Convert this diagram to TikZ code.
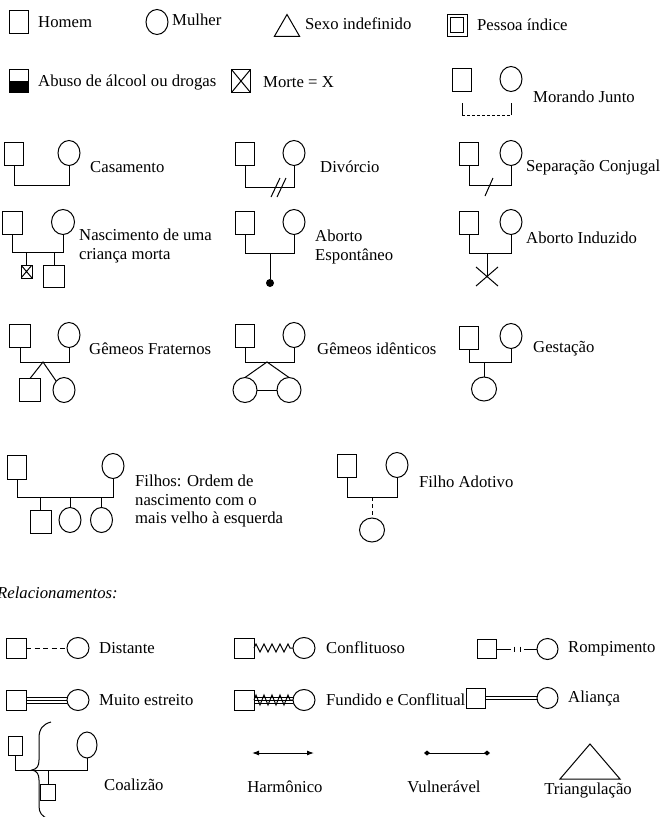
\documentclass[tikz,border=0pt]{standalone}
\usepackage{fontspec}
\setmainfont{Liberation Serif}
\usetikzlibrary{shapes.geometric,arrows.meta,decorations.pathmorphing}
\newcommand\lblfont{\fontsize{16.7}{18.5}\selectfont}
\begin{document}
\begin{tikzpicture}[x=1pt,y=-1pt,
  ln/.style={line width=1pt},
  male/.style={draw, ln, rectangle, minimum width=19pt, minimum height=23pt, inner sep=0pt, outer sep=0pt},
  female/.style={draw, ln, ellipse, minimum width=22pt, minimum height=25pt, inner sep=0pt, outer sep=0pt},
  smallsq/.style={male, minimum width=11pt, minimum height=13pt},
  lab/.style={anchor=west, inner sep=0pt, font=\lblfont, align=left},
  ctr/.style={inner sep=0pt, font=\lblfont},
  cross/.style={path picture={\draw[ln] (path picture bounding box.north west) -- (path picture bounding box.south east) (path picture bounding box.north east) -- (path picture bounding box.south west);}},
  halffill/.style={path picture={\fill (path picture bounding box.west) rectangle (path picture bounding box.south east);}},
  zz/.style={decorate, decoration={zigzag, segment length=8pt, amplitude=4pt}},
]
\useasboundingbox (0,0) rectangle (663,817);
\fill[white] (0,0) rectangle (663,817);

% ---------- Row 1
\node[male] (homem) at (19,22) {};
\node[lab] (thomem) at (38,22) {Homem};
\node[female] (mulher) at (157,22) {};
\node[lab] (tmulher) at (172,20) {Mulher};
\node[draw, ln, regular polygon, regular polygon sides=3, minimum size=29pt, inner sep=0pt, outer sep=0pt] (sexo) at (287,29) {};
\node[lab] (tsexo) at (305,24) {Sexo indefinido};
\node[male, minimum width=20pt, minimum height=22pt] (indice) at (457,25) {};
\node[draw, line width=0.7pt, minimum width=13pt, minimum height=15pt, inner sep=0pt] (indicein) at (indice.center) {};
\node[lab] (tindice) at (477,25) {Pessoa índice};

% ---------- Row 2
\node[male, halffill] (abuso) at (19,81) {};
\node[lab] (tabuso) at (38,82) {Abuso de álcool ou drogas};
\node[male, cross] (morte) at (241,81) {};
\node[lab] (tmorte) at (263,82) {Morte = X};
\node[male] (mjh) at (462,80) {};
\node[female] (mjm) at (511,79) {};
\coordinate (mj1) at (462,103); \coordinate (mj2) at (462,115);
\coordinate (mj3) at (511,115); \coordinate (mj4) at (511,103);
\draw[ln] (mj1) -- (mj2);
\draw[ln, dash pattern=on 3pt off 2pt] (mj2) -- (mj3);
\draw[ln] (mj3) -- (mj4);
\node[lab] (tmj) at (533,97) {Morando Junto};

% ---------- Row 3
\node[male] (cah) at (14,154) {};
\node[female] (cam) at (69,153) {};
\coordinate (ca1) at (14,185); \coordinate (ca2) at (69,185);
\draw[ln] (cah.south) -- (ca1) -- (ca2) -- (cam.south);
\node[lab] (tca) at (90,167) {Casamento};

\node[male] (dih) at (245,154) {};
\node[female] (dim) at (294,153) {};
\coordinate (di1) at (245,187); \coordinate (di2) at (294,187);
\draw[ln] (dih.south) -- (di1) -- (di2) -- (dim.south);
\draw[ln] (271,197) -- (280,178) (277,197) -- (286,178);
\node[lab] (tdi) at (320,167) {Divórcio};

\node[male] (seh) at (469,154) {};
\node[female] (sem) at (511,153) {};
\coordinate (se1) at (469,185); \coordinate (se2) at (511,185);
\draw[ln] (seh.south) -- (se1) -- (se2) -- (sem.south);
\draw[ln] (485,196) -- (493,178);
\node[lab] (tse) at (526,168) {Separação Conjugal};

% ---------- Row 4
\node[male, minimum width=20pt] (nah) at (12,223) {};
\node[female, minimum width=23pt] (nam) at (63,222) {};
\coordinate (na1) at (12,252); \coordinate (na2) at (63,252);
\draw[ln] (nah.south) -- (na1) -- (na2) -- (nam.south);
\node[smallsq, cross] (nac1) at (26.5,271.5) {};
\node[male, minimum width=21pt, minimum height=22pt] (nac2) at (54,276) {};
\draw[ln] (nac1.north |- na1) -- (nac1.north);
\draw[ln] (nac2.north |- na1) -- (nac2.north);
\node[lab] (tna) at (79,246) {Nascimento de uma\\criança morta};

\node[male] (aeh) at (245,223) {};
\node[female] (aem) at (294,222) {};
\coordinate (ae1) at (245,253); \coordinate (ae2) at (294,253); \coordinate (ae3) at (270,253);
\draw[ln] (aeh.south) -- (ae1) -- (ae2) -- (aem.south);
\node[circle, fill, inner sep=0pt, minimum size=8pt] (aedot) at (270,283) {};
\draw[ln] (ae3) -- (aedot);
\node[lab] (tae) at (315,247) {Aborto\\Espontâneo};

\node[male] (aih) at (469,223) {};
\node[female] (aim) at (511,222) {};
\coordinate (ai1) at (469,253); \coordinate (ai2) at (511,253); \coordinate (ai3) at (487,253);
\draw[ln] (aih.south) -- (ai1) -- (ai2) -- (aim.south);
\coordinate (aix) at (487,276);
\draw[ln] (ai3) -- (aix);
\draw[ln] (476,267) -- (498,286) (498,267) -- (476,286);
\node[lab] (tai) at (526,238) {Aborto Induzido};

% ---------- Row 5
\node[male, minimum width=21pt] (gfh) at (20,336) {};
\node[female] (gfm) at (69,335) {};
\coordinate (gf1) at (20,362); \coordinate (gf2) at (69,362); \coordinate (gfs) at (43,362);
\draw[ln] (gfh.south) -- (gf1) -- (gf2) -- (gfm.south);
\node[male, minimum width=21pt] (gfc1) at (30,390) {};
\node[female] (gfc2) at (64,390) {};
\draw[ln] (gfc1.north) -- (gfs) -- (gfc2.north west);
\node[lab] (tgf) at (89,349) {Gêmeos Fraternos};

\node[male] (gih) at (245,336) {};
\node[female] (gim) at (294,335) {};
\coordinate (gi1) at (245,362); \coordinate (gi2) at (294,362); \coordinate (gis) at (267,362);
\draw[ln] (gih.south) -- (gi1) -- (gi2) -- (gim.south);
\node[female, minimum width=24pt] (gic1) at (245,390) {};
\node[female, minimum width=24pt] (gic2) at (289,390) {};
\draw[ln] (gic1.north) -- (gis) -- (gic2.north);
\draw[ln] (gic1.east) -- (gic2.west);
\node[lab] (tgi) at (317,349) {Gêmeos idênticos};

\node[male] (geh) at (469,338) {};
\node[female] (gem) at (511,336) {};
\coordinate (ge1) at (469,362); \coordinate (ge2) at (511,362); \coordinate (ges) at (484,362);
\draw[ln] (geh.south) -- (ge1) -- (ge2) -- (gem.south);
\node[female, minimum width=25pt, minimum height=24pt] (gec) at (484,389) {};
\draw[ln] (ges) -- (gec.north);
\node[lab] (tge) at (533,349) {Gestação};

% ---------- Row 6
\node[male, minimum height=24pt] (fih) at (17,467) {};
\node[female] (fim) at (113,466) {};
\coordinate (fi1) at (17,497); \coordinate (fi2) at (113,497);
\draw[ln] (fih.south) -- (fi1) -- (fi2) -- (fim.south);
\node[male, minimum width=21pt] (fic1) at (40.5,521.5) {};
\node[female] (fic2) at (70,520) {};
\node[female] (fic3) at (101.5,520) {};
\foreach \c in {fic1,fic2,fic3} \draw[ln] (\c.north |- fi1) -- (\c.north);
\node[lab] (tfi) at (135,501) {Filhos: Ordem de\\nascimento com o\\mais velho à esquerda};

\node[male] (fah) at (347,466) {};
\node[female] (fam) at (397,465) {};
\coordinate (fa1) at (347,497); \coordinate (fa2) at (397,497); \coordinate (fas) at (372,497);
\draw[ln] (fah.south) -- (fa1) -- (fa2) -- (fam.south);
\node[female, minimum width=25pt, minimum height=24pt] (fac) at (372,530) {};
\draw[ln, dash pattern=on 4pt off 3pt] (fas) -- (fac.north);
\node[lab] (tfa) at (419,482) {Filho Adotivo};

% ---------- Relacionamentos
\node[lab, font=\lblfont\itshape] (trel) at (-3,593) {Relacionamentos:};

% R1
\node[male, minimum height=20pt, minimum width=20pt] (dsh) at (16,648) {};
\node[female, minimum height=21pt] (dsm) at (78,648) {};
\draw[ln, dash pattern=on 5pt off 3.5pt] (dsh.east) -- (dsm.west);
\node[lab] (tds) at (99,648) {Distante};

\node[male, minimum height=20pt, minimum width=20pt] (cfh) at (244,648) {};
\node[female, minimum height=21pt] (cfm) at (304,648) {};
\draw[ln, zz] (cfh.east) -- (cfm.west);
\node[lab] (tcf) at (326,648) {Conflituoso};

\node[male, minimum height=19pt, minimum width=19pt] (rph) at (486.5,649) {};
\node[female, minimum width=21pt, minimum height=21pt] (rpm) at (547.5,649) {};
\coordinate (rp1) at (511,649); \coordinate (rp2) at (524,649);
\draw[ln] (rph.east) -- (rp1);
\draw[ln] (514,646.5) -- (514,651.5) (520,646.5) -- (520,651.5);
\draw[ln] (rp2) -- (rpm.west);
\node[lab] (trp) at (568,649) {Rompimento};

% R2
\node[male, minimum height=20pt, minimum width=20pt] (meh) at (16,700) {};
\node[female, minimum height=21pt] (mem) at (78,700) {};
\foreach \s in {-3,0,3} \draw[ln] ([yshift=\s pt]meh.east) -- ([yshift=\s pt]mem.west);
\node[lab] (tme) at (99,700) {Muito estreito};

\node[male, minimum height=20pt, minimum width=20pt] (fch) at (244,700) {};
\node[female, minimum height=21pt] (fcm) at (304,700) {};
\foreach \s in {-3,0,3} \draw[ln] ([yshift=\s pt]fch.east) -- ([yshift=\s pt]fcm.west);
\draw[ln, decorate, decoration={zigzag, segment length=8pt, amplitude=5pt}] (fch.east) -- (fcm.west);
\node[lab] (tfc) at (326,700) {Fundido e Conflitual};

\node[male, minimum height=20pt, minimum width=19pt] (alh) at (475.5,698) {};
\node[female, minimum width=21pt, minimum height=21pt] (alm) at (547.5,698) {};
\foreach \s in {-1.5,1.5} \draw[ln] ([yshift=\s pt]alh.east) -- ([yshift=\s pt]alm.west);
\node[lab] (tal) at (568,698) {Aliança};

% R3
\node[male, minimum width=14pt, minimum height=19pt] (coh) at (15,746) {};
\node[female, minimum width=20pt, minimum height=26pt] (com) at (87,745) {};
\coordinate (co1) at (15,770); \coordinate (co2) at (87,770); \coordinate (co3) at (48,770);
\draw[ln] (coh.south) -- (co1) -- (co2) -- (com.south);
\node[male, minimum width=15pt, minimum height=16pt] (coc) at (48,792) {};
\draw[ln] (co3) -- (coc.north);
\draw[ln] (51,722) .. controls (43,724) and (39,729) .. (39,738) -- (39,760)
  .. controls (39,766) and (37,769) .. (32,770)
  .. controls (37,771) and (39,774) .. (39,780) -- (39,806)
  .. controls (39,813) and (42,816) .. (48,819);
\node[lab] (tco) at (104,785) {Coalizão};

\coordinate (ha1) at (252,753); \coordinate (ha2) at (314,753);
\draw[ln, {Latex[length=7pt,width=5pt]}-{Latex[length=7pt,width=5pt]}] (ha1) -- (ha2);
\node[ctr] (tha) at (285,787) {Harmônico};

\coordinate (vu1) at (424,753); \coordinate (vu2) at (490,753);
\draw[ln, {Diamond[length=6pt,width=5pt]}-{Diamond[length=6pt,width=5pt]}] (vu1) -- (vu2);
\node[ctr] (tvu) at (444,787) {Vulnerável};

\coordinate (tr1) at (590,744); \coordinate (tr2) at (560,779); \coordinate (tr3) at (620,779);
\draw[ln, line join=miter] (tr1) -- (tr2) -- (tr3) -- cycle;
\node[ctr] (ttr) at (588,790) {Triangulação};
\end{tikzpicture}
\end{document}
